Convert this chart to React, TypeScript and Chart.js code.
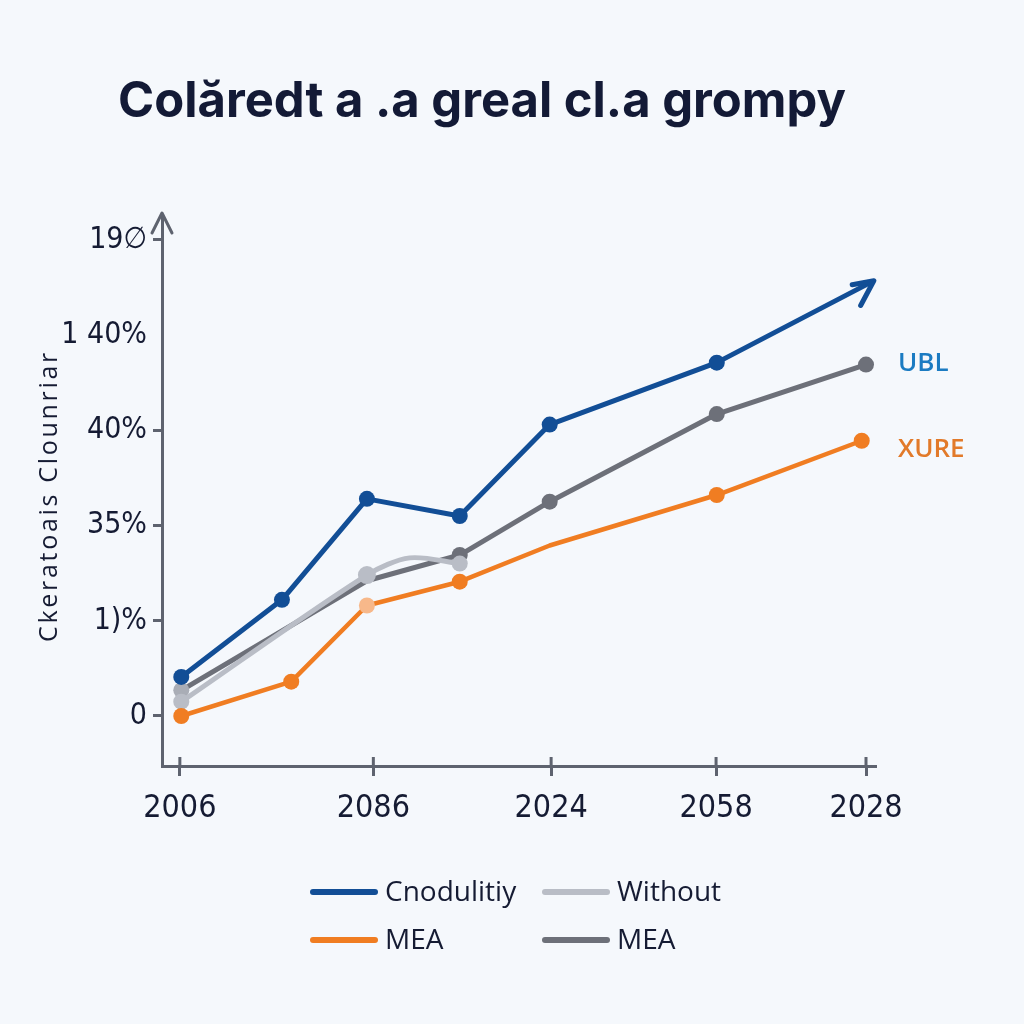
import { useEffect, useRef } from "react";
import { Chart, registerables } from "chart.js";
Chart.register(...registerables);

const titleText = "Colăredt a .a greal cl.a grompy";
const yAxisTitle = "Ckeratoais Clounriar";

const xTickPositions = [2.5, 29.6, 54.5, 77.6, 98.6];
const xTickLabels = ["2006", "2086", "2024", "2058", "2028"];
const yTickValues = [0, 1, 2, 3, 4, 5];
const yTickLabels = ["0", "1)%", "35%", "40%", "1 40%", "19∅"];

const blueX = [2.7, 16.8, 28.7, 41.7, 54.3, 77.7, 99.2];
const blueY = [0.41, 1.22, 2.28, 2.1, 3.06, 3.71, 4.55];

const orangeX = [2.7, 18.1, 28.7, 41.7, 54.3, 77.7, 98.0];
const orangeY = [0.0, 0.36, 1.16, 1.41, 1.79, 2.32, 2.89];

const lightGrayX = [2.7, 28.7, 34.7, 41.7];
const lightGrayY = [0.15, 1.48, 1.66, 1.6];

const darkGrayX = [2.7, 28.7, 41.7, 54.3, 77.7, 98.6];
const darkGrayY = [0.27, 1.42, 1.69, 2.25, 3.17, 3.69];

const legendItems = [
  { label: "Cnodulitiy", color: "#124e96" },
  { label: "Without", color: "#b9bdc6" },
  { label: "MEA", color: "#f07d22" },
  { label: "MEA", color: "#6d7079" },
];

const endLabels = [
  { text: "UBL", color: "#1b7bc2", series: 3 },
  { text: "XURE", color: "#e27a2a", series: 1 },
];

const BLUE = "#124e96";
const ORANGE = "#f07d22";
const LIGHT = "#b9bdc6";
const DARK = "#6d7079";
const AXIS = "#5e636f";
const TEXT = "#151b33";
const TICK_FAMILY = '"DejaVu Sans", sans-serif';

function pts(xs: number[], ys: number[]) {
  return xs.map((x, i) => ({ x, y: ys[i] }));
}

const decor = {
  id: "decor",
  afterDraw(chart: any) {
    const ctx = chart.ctx;
    const area = chart.chartArea;
    ctx.save();

    // title
    ctx.fillStyle = "#131a36";
    ctx.textAlign = "center";
    ctx.textBaseline = "alphabetic";
    let size = 48;
    ctx.font = `700 ${size}px Inter, "Open Sans", sans-serif`;
    const w = ctx.measureText(titleText).width;
    size = (size * 728) / w;
    ctx.font = `700 ${size}px Inter, "Open Sans", sans-serif`;
    ctx.fillText(titleText, 482, 117);

    // y axis title
    ctx.save();
    ctx.translate(50, 496);
    ctx.rotate(-Math.PI / 2);
    ctx.font = `25px "Open Sans", sans-serif`;
    const base = ctx.measureText(yAxisTitle).width;
    const spacing = Math.max(0, (292 - base) / yAxisTitle.length);
    (ctx as any).letterSpacing = `${spacing}px`;
    ctx.fillStyle = TEXT;
    ctx.textAlign = "center";
    ctx.textBaseline = "middle";
    ctx.fillText(yAxisTitle, 0, 0);
    (ctx as any).letterSpacing = "0px";
    ctx.restore();

    // y axis arrow
    ctx.strokeStyle = AXIS;
    ctx.lineWidth = 3;
    ctx.lineCap = "round";
    ctx.lineJoin = "round";
    ctx.beginPath();
    ctx.moveTo(area.left - 10, area.top + 18);
    ctx.lineTo(area.left, area.top - 2);
    ctx.lineTo(area.left + 10, area.top + 18);
    ctx.stroke();

    // x tick marks above the axis
    const xs = chart.scales.x;
    ctx.lineCap = "butt";
    xTickPositions.forEach((v) => {
      const px = xs.getPixelForValue(v);
      ctx.beginPath();
      ctx.moveTo(px, area.bottom - 9);
      ctx.lineTo(px, area.bottom);
      ctx.stroke();
    });

    // blue arrow head
    const meta = chart.getDatasetMeta(0);
    const n = meta.data.length;
    const a = meta.data[n - 1];
    const b = meta.data[n - 2];
    const ang = Math.atan2(a.y - b.y, a.x - b.x);
    const tipX = a.x + 4 * Math.cos(ang);
    const tipY = a.y + 4 * Math.sin(ang);
    ctx.strokeStyle = BLUE;
    ctx.lineWidth = 5;
    ctx.lineCap = "round";
    ctx.beginPath();
    ctx.moveTo(tipX + 28 * Math.cos(ang + Math.PI - 0.6), tipY + 28 * Math.sin(ang + Math.PI - 0.6));
    ctx.lineTo(tipX, tipY);
    ctx.lineTo(tipX + 22 * Math.cos(ang + Math.PI + 0.3), tipY + 22 * Math.sin(ang + Math.PI + 0.3));
    ctx.stroke();

    // end labels
    ctx.textAlign = "left";
    ctx.textBaseline = "middle";
    ctx.font = `600 26px "Open Sans", sans-serif`;
    endLabels.forEach((l) => {
      const m = chart.getDatasetMeta(l.series);
      const p = m.data[m.data.length - 1];
      ctx.fillStyle = l.color;
      ctx.fillText(l.text, 898, p.y + (l.series === 1 ? 9 : -1));
    });

    // legend
    const cols = [313, 545];
    const rows = [892, 940];
    ctx.font = `28px "Open Sans", sans-serif`;
    legendItems.forEach((it, i) => {
      const x = cols[i % 2];
      const y = rows[Math.floor(i / 2)];
      ctx.strokeStyle = it.color;
      ctx.lineWidth = 6;
      ctx.lineCap = "round";
      ctx.beginPath();
      ctx.moveTo(x, y);
      ctx.lineTo(x + 62, y);
      ctx.stroke();
      ctx.fillStyle = TEXT;
      ctx.fillText(it.label, x + 72, y + 1);
    });

    ctx.restore();
  },
};

export default function App() {
  const ref = useRef<HTMLCanvasElement | null>(null);
  useEffect(() => {
    if (!ref.current) return;
    const chart = new Chart(ref.current, {
      type: "line",
      data: {
        datasets: [
          {
            label: "Cnodulitiy",
            data: pts(blueX, blueY),
            borderColor: BLUE,
            backgroundColor: BLUE,
            pointBackgroundColor: BLUE,
            pointBorderWidth: 0,
            borderWidth: 5,
            pointRadius: [8, 8, 8, 8, 8, 8, 0],
            borderJoinStyle: "round",
            borderCapStyle: "round",
          },
          {
            label: "MEA",
            data: pts(orangeX, orangeY),
            borderColor: ORANGE,
            backgroundColor: ORANGE,
            pointBackgroundColor: [ORANGE, ORANGE, "#f7b88a", ORANGE, ORANGE, ORANGE, ORANGE],
            pointBorderWidth: 0,
            borderWidth: 4.5,
            pointRadius: [8, 8, 8, 8, 0, 8, 8],
            borderJoinStyle: "round",
            borderCapStyle: "round",
          },
          {
            label: "Without",
            data: pts(lightGrayX, lightGrayY),
            borderColor: LIGHT,
            backgroundColor: LIGHT,
            pointBackgroundColor: LIGHT,
            pointBorderWidth: 0,
            borderWidth: 5,
            pointRadius: [8, 9, 0, 8],
            tension: 0.3,
            borderJoinStyle: "round",
            borderCapStyle: "round",
          },
          {
            label: "MEA",
            data: pts(darkGrayX, darkGrayY),
            borderColor: DARK,
            backgroundColor: DARK,
            pointBackgroundColor: ["#a9adb6", DARK, DARK, DARK, DARK, DARK],
            pointBorderWidth: 0,
            borderWidth: 5,
            pointRadius: [8, 0, 8, 8, 8, 8],
            borderJoinStyle: "round",
            borderCapStyle: "round",
          },
        ],
      },
      options: {
        animation: false,
        responsive: false,
        devicePixelRatio: 1,
        layout: { padding: { left: 0, top: 215, right: 148, bottom: 200 } },
        plugins: {
          legend: { display: false },
          title: { display: false },
          tooltip: { enabled: false },
        },
        scales: {
          x: {
            type: "linear",
            min: 0,
            max: 100,
            afterFit(scale: any) {
              scale.height = 58;
            },
            afterBuildTicks(scale: any) {
              scale.ticks = xTickPositions.map((v) => ({ value: v }));
            },
            ticks: {
              autoSkip: false,
              maxRotation: 0,
              padding: 13,
              color: TEXT,
              font: { family: TICK_FAMILY, size: 32, weight: "condensed" },
              callback(_v: any, i: number) {
                return xTickLabels[i];
              },
            },
            grid: {
              drawOnChartArea: false,
              tickLength: 10,
              tickColor: AXIS,
              tickWidth: 3,
            },
            border: { color: AXIS, width: 3 },
          },
          y: {
            type: "linear",
            min: -0.525,
            max: 5.26,
            afterFit(scale: any) {
              scale.width = 162;
            },
            afterBuildTicks(scale: any) {
              scale.ticks = yTickValues.map((v) => ({ value: v }));
            },
            ticks: {
              autoSkip: false,
              padding: 6,
              color: TEXT,
              font: { family: TICK_FAMILY, size: 30, weight: "condensed" },
              callback(_v: any, i: number) {
                return yTickLabels[i];
              },
            },
            grid: {
              drawOnChartArea: false,
              tickLength: 9,
              tickColor: (c: any) => (c.tick && c.tick.value === 4 ? "rgba(0,0,0,0)" : AXIS),
              tickWidth: 3,
            },
            border: { color: AXIS, width: 3 },
          },
        },
      },
      plugins: [decor],
    } as any);
    return () => chart.destroy();
  }, []);

  return (
    <div style={{ position: "absolute", left: 0, top: 0, width: 1024, height: 1024, background: "#f5f8fc" }}>
      <canvas ref={ref} width={1024} height={1024} style={{ display: "block" }} />
    </div>
  );
}
